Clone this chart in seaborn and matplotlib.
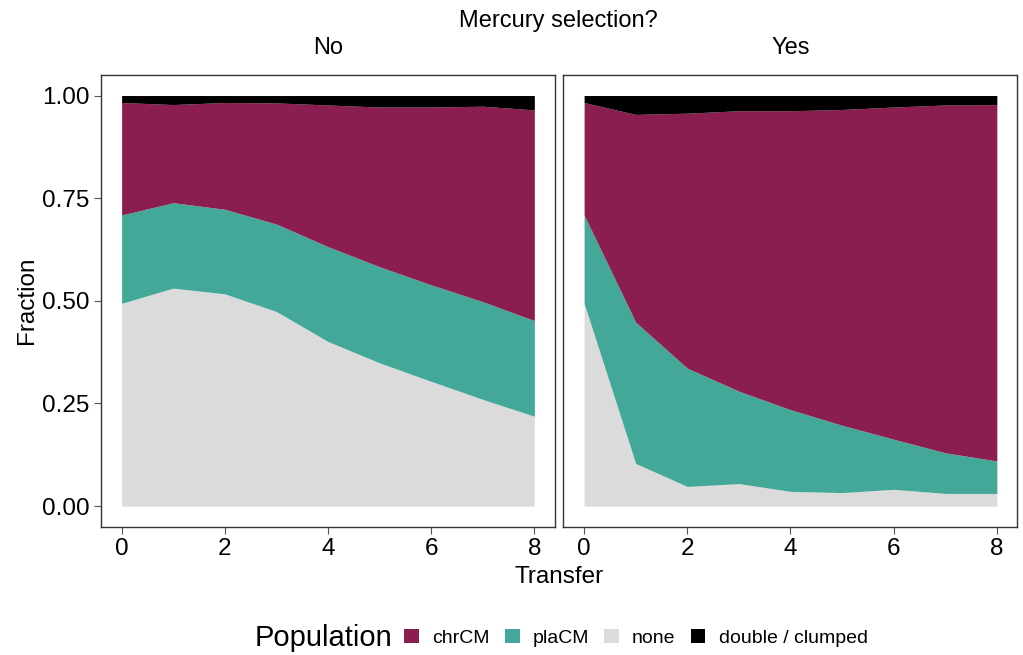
import numpy as np
import pandas as pd
import matplotlib
matplotlib.use("Agg")
import matplotlib.pyplot as plt
import seaborn as sns
from matplotlib.patches import Patch

# ---- data ----
transfer = [0, 1, 2, 3, 4, 5, 6, 7, 8]
populations = ["chrCM", "plaCM", "none", "double / clumped"]
colors = ["#8A1E50", "#43A898", "#DBDBDB", "#000000"]

no_none = [0.494, 0.531, 0.517, 0.474, 0.401, 0.349, 0.304, 0.260, 0.219]
no_pla = [0.215, 0.208, 0.206, 0.213, 0.231, 0.234, 0.235, 0.238, 0.233]
no_chr = [0.274, 0.239, 0.260, 0.295, 0.345, 0.389, 0.433, 0.476, 0.513]
no_double = [0.017, 0.022, 0.017, 0.018, 0.023, 0.028, 0.028, 0.026, 0.035]

yes_none = [0.494, 0.104, 0.048, 0.055, 0.036, 0.033, 0.041, 0.031, 0.031]
yes_pla = [0.215, 0.344, 0.288, 0.225, 0.199, 0.164, 0.122, 0.099, 0.079]
yes_chr = [0.274, 0.506, 0.621, 0.683, 0.728, 0.769, 0.809, 0.847, 0.868]
yes_double = [0.017, 0.046, 0.043, 0.037, 0.037, 0.034, 0.028, 0.023, 0.022]

panels = ["No", "Yes"]
y_ticks = [0.00, 0.25, 0.50, 0.75, 1.00]
y_ticklabels = ["0.00", "0.25", "0.50", "0.75", "1.00"]
x_ticks = [0, 2, 4, 6, 8]

frames = []
for sel, vals in [("No", [no_chr, no_pla, no_none, no_double]),
                  ("Yes", [yes_chr, yes_pla, yes_none, yes_double])]:
    for pop, v in zip(populations, vals):
        frames.append(pd.DataFrame({"Transfer": transfer, "Fraction": v,
                                    "Population": pop, "Selection": sel}))
df = pd.concat(frames, ignore_index=True)

sns.set_theme(style="white")
plt.rcParams["font.family"] = ["Liberation Sans", "DejaVu Sans"]
plt.rcParams["text.color"] = "black"

fig = plt.figure(figsize=(10.23, 6.55), dpi=100)
ax_pos = [[0.0987, 0.1959, 0.4438, 0.6896], [0.5508, 0.1959, 0.4438, 0.6896]]
axes = [fig.add_axes(p) for p in ax_pos]

# stacking order bottom -> top: none, plaCM, chrCM, double
stack_order = ["none", "plaCM", "chrCM", "double / clumped"]
pal = dict(zip(populations, colors))

for ax, sel in zip(axes, panels):
    sub = df[df["Selection"] == sel]
    base = np.zeros(len(transfer))
    for pop in stack_order:
        d = sub[sub["Population"] == pop].sort_values("Transfer")
        top = base + d["Fraction"].to_numpy()
        ax.fill_between(d["Transfer"], base, top, color=pal[pop], linewidth=0)
        base = top
    ax.set_xlim(-0.4, 8.4)
    ax.set_ylim(-0.05, 1.05)
    ax.set_xticks(x_ticks)
    ax.set_yticks(y_ticks)
    ax.tick_params(axis="both", which="both", direction="out", length=5,
                   width=0.8, color="#555555", labelsize=17.5, labelcolor="black",
                   pad=3, bottom=True, left=True)
    for s in ax.spines.values():
        s.set_visible(True)
        s.set_color("#333333")
        s.set_linewidth(1.0)
    ax.text(0.5, 1.035, sel, transform=ax.transAxes, ha="center", va="bottom",
            fontsize=17, color="black")
    ax.set_xlabel("")
    ax.set_ylabel("")
    ax.grid(False)

axes[0].set_yticklabels(y_ticklabels)
axes[1].set_yticklabels([])
axes[1].tick_params(axis="y", length=0)

fig.text(0.5455, 0.968, "Mercury selection?", ha="center", va="center", fontsize=17)
fig.text(0.5465, 0.119, "Transfer", ha="center", va="center", fontsize=17.5)
fig.text(0.026, 0.541, "Fraction", ha="center", va="center", rotation=90, fontsize=17.5)

# legend
fig.text(0.249, 0.026, "Population", ha="left", va="center", fontsize=21)
handles = [Patch(facecolor=pal[p], edgecolor="none") for p in populations]
leg = fig.legend(handles, populations, ncol=4, loc="center left",
                 bbox_to_anchor=(0.395, 0.026), frameon=False, fontsize=14,
                 handlelength=0.77, handleheight=0.77, handletextpad=0.67,
                 columnspacing=0.77, borderpad=0, borderaxespad=0)
for t in leg.get_texts():
    t.set_color("black")

fig.savefig("out.png", dpi=100)
